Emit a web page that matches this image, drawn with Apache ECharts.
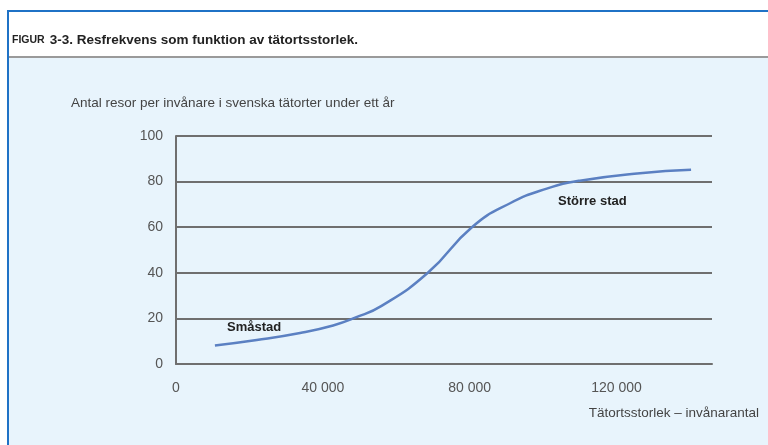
<!DOCTYPE html>
<html>
<head>
<meta charset="utf-8">
<script src="https://cdn.jsdelivr.net/npm/echarts@6/dist/echarts.min.js"></script>
<style>
    body { margin: 0; background: #ffffff; }
    #wrap { position: relative; width: 768px; height: 445px; overflow: hidden; }
    #frame {
        position: absolute; left: 7px; top: 10px; width: 780px; height: 450px;
        border-left: 2px solid #1f72c6; border-top: 2px solid #1f72c6;
        background: #e8f4fc;
    }
    #head { height: 44px; background: #ffffff; border-bottom: 2px solid #9a9a9a; }
    #chart { position: absolute; left: 0; top: 0; width: 768px; height: 445px; }
</style>
</head>
<body>
<div id="wrap">
    <div id="frame"><div id="head"></div></div>
    <div id="chart"></div>
</div>
<script>
//--------------------------------
// Data
//--------------------------------
// tätortsstorlek (invånare) -> resor per invånare och år
const population = [10600, 22000, 33800, 42800, 48800, 56000, 68600, 80600, 91000, 101000, 110000, 126400, 140300];
const trips = [8.1, 10.5, 13.6, 16.9, 20.3, 25.5, 40, 60, 70.5, 76.9, 80.4, 83.7, 85.2];

const xTicks = [0, 40000, 80000, 120000];
const yTicks = [0, 20, 40, 60, 80, 100];

const FONT = '"Liberation Sans", Arial, sans-serif';
const gridColor = '#6f6f6f';

var myChart = echarts.init(document.getElementById('chart'));

const fmtThousands = (v) => {
    if (v === 0) return '0';
    return String(v).replace(/\B(?=(\d{3})+(?!\d))/g, ' ');
};

let options = {
    animation: false,
    textStyle: { fontFamily: FONT },
    title: [
        {
            text: '{a|FIGUR} {b|3-3. Resfrekvens som funktion av tätortsstorlek.}',
            left: 7,
            top: 26,
            textStyle: {
                rich: {
                    a: { fontFamily: FONT, fontSize: 10.5, fontWeight: 'bold', color: '#222' },
                    b: { fontFamily: FONT, fontSize: 13.5, fontWeight: 'bold', color: '#222' }
                }
            }
        },
        {
            text: 'Antal resor per invånare i svenska tätorter under ett år',
            left: 66,
            top: 91,
            textStyle: { fontFamily: FONT, fontSize: 13.5, fontWeight: 'normal', color: '#444' }
        },
        {
            text: 'Tätortsstorlek – invånarantal',
            right: 4,
            top: 401,
            textStyle: { fontFamily: FONT, fontSize: 13.5, fontWeight: 'normal', color: '#444' }
        }
    ],
    grid: {
        left: 176,
        right: 56,
        top: 136,
        bottom: 81
    },
    xAxis: {
        type: 'value',
        min: xTicks[0],
        max: 146000,
        interval: 40000,
        axisLine: { show: true, lineStyle: { color: gridColor, width: 2 } },
        axisTick: { show: false },
        splitLine: { show: false },
        axisLabel: {
            showMaxLabel: false,
            margin: 17,
            fontSize: 14,
            color: '#555',
            fontFamily: FONT,
            formatter: fmtThousands
        }
    },
    yAxis: {
        type: 'value',
        min: yTicks[0],
        max: yTicks[yTicks.length - 1],
        interval: 20,
        axisLine: { show: true, lineStyle: { color: gridColor, width: 2 } },
        axisTick: { show: false },
        splitLine: { show: true, lineStyle: { color: gridColor, width: 2 } },
        axisLabel: {
            margin: 13,
            fontSize: 14,
            color: '#555',
            fontFamily: FONT
        }
    },
    graphic: [
        {
            type: 'text',
            left: 227,
            top: 321,
            style: { text: 'Småstad', fontFamily: FONT, fontSize: 13, fontWeight: 'bold', fill: '#222' }
        },
        {
            type: 'text',
            left: 558,
            top: 195,
            style: { text: 'Större stad', fontFamily: FONT, fontSize: 13, fontWeight: 'bold', fill: '#222' }
        }
    ],
    series: [
        {
            name: 'Resfrekvens',
            type: 'line',
            smooth: 0.5,
            showSymbol: false,
            lineStyle: { color: '#5b80c2', width: 2.5 },
            data: population.map((p, i) => [p, trips[i]])
        }
    ]
};
myChart.setOption(options);
</script>
</body>
</html>
